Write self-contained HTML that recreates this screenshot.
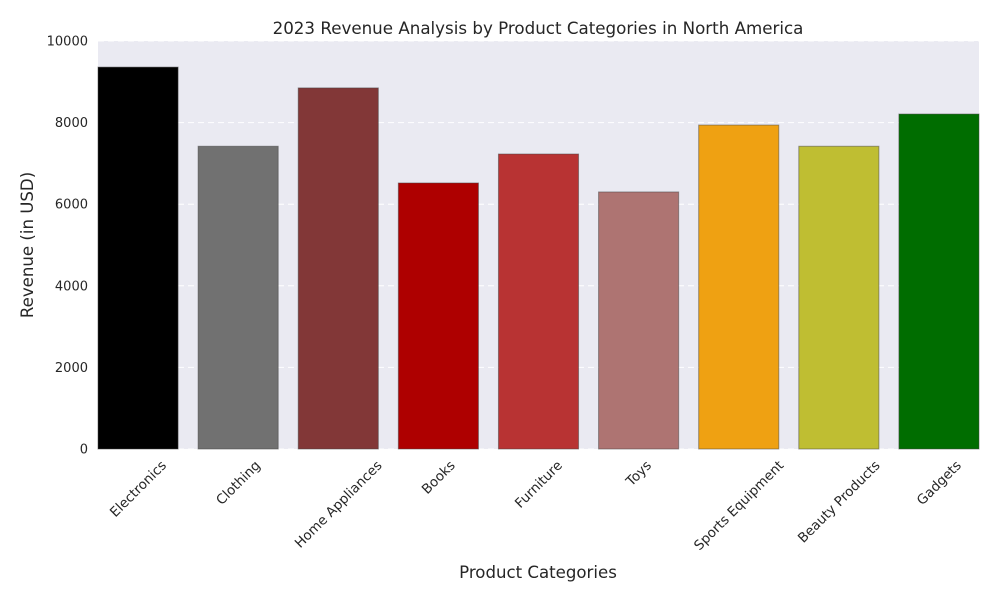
<!DOCTYPE html>
<html><head><meta charset="utf-8"><style>
body{margin:0;background:#fff;font-family:"DejaVu Sans","Liberation Sans",sans-serif;}
</style></head><body>
<svg id="chart" width="1000" height="600" xmlns="http://www.w3.org/2000/svg" font-family="DejaVu Sans, Liberation Sans, sans-serif">
<rect x="98" y="41" width="881" height="408" fill="#eaeaf2"/>
<g id="grid"></g><g id="bars"></g><g id="yticks"></g><g id="xticks"></g>
<text x="538" y="34" text-anchor="middle" font-size="16.7" fill="#262626">2023 Revenue Analysis by Product Categories in North America</text>
<text x="538" y="578" text-anchor="middle" font-size="16.6" fill="#262626">Product Categories</text>
<text transform="translate(33,245) rotate(-90)" text-anchor="middle" font-size="16.6" fill="#262626">Revenue (in USD)</text>
</svg>
<script>
const categories=["Electronics","Clothing","Home Appliances","Books","Furniture","Toys","Sports Equipment","Beauty Products","Gadgets"];
const revenues=[9360,7420,8850,6520,7230,6300,7940,7420,8210];
const colors=["#000000","#717171","#823737","#ae0000","#b83333","#ae7472","#efa112","#bfbe32","#006d00"];
const yTicks=[0,2000,4000,6000,8000,10000];
const NS="http://www.w3.org/2000/svg";
const x0=98,x1=979,yTop=41,yBot=449,yMax=10000;
const unit=(x1-x0)/(categories.length-0.2);
const xs=i=>x0+unit*(i+0.4);
const ys=v=>yBot-(v/yMax)*(yBot-yTop);
function mk(t,a,p){const e=document.createElementNS(NS,t);for(const k in a)e.setAttribute(k,a[k]);p.appendChild(e);return e;}
const grid=document.getElementById('grid'),yt=document.getElementById('yticks');
yTicks.forEach(v=>{
 const l=mk('line',{x1:x0,x2:x1,y1:ys(v),y2:ys(v),stroke:'#fff','stroke-width':1,'stroke-dasharray':'6,4'},grid);
 
 
 const t=mk('text',{x:x0-10,y:ys(v)+4.5,'text-anchor':'end','font-size':13,fill:'#262626'},yt);
 t.textContent=v;
 
 
});
const bars=document.getElementById('bars'),xt=document.getElementById('xticks');
categories.forEach((c,i)=>{
 const bx=xs(i)-0.4*unit,w=0.8*unit;
 const r=mk('rect',{x:bx,y:ys(revenues[i]),width:w,height:yBot-ys(revenues[i]),fill:colors[i],stroke:'#444','stroke-opacity':0.5,'stroke-width':1},bars);
 
 
 const t=mk('text',{'text-anchor':'middle','font-size':13.4,fill:'#262626'},xt);
 t.textContent=c;
 
 
 const L=t.getComputedTextLength();
 const cx=xs(i),cy=yBot+14+L*0.707/2;
 t.setAttribute('x',cx);t.setAttribute('y',cy+4.5);
 t.setAttribute('transform',`rotate(-45 ${cx} ${cy})`);
});
</script>
</body></html>
